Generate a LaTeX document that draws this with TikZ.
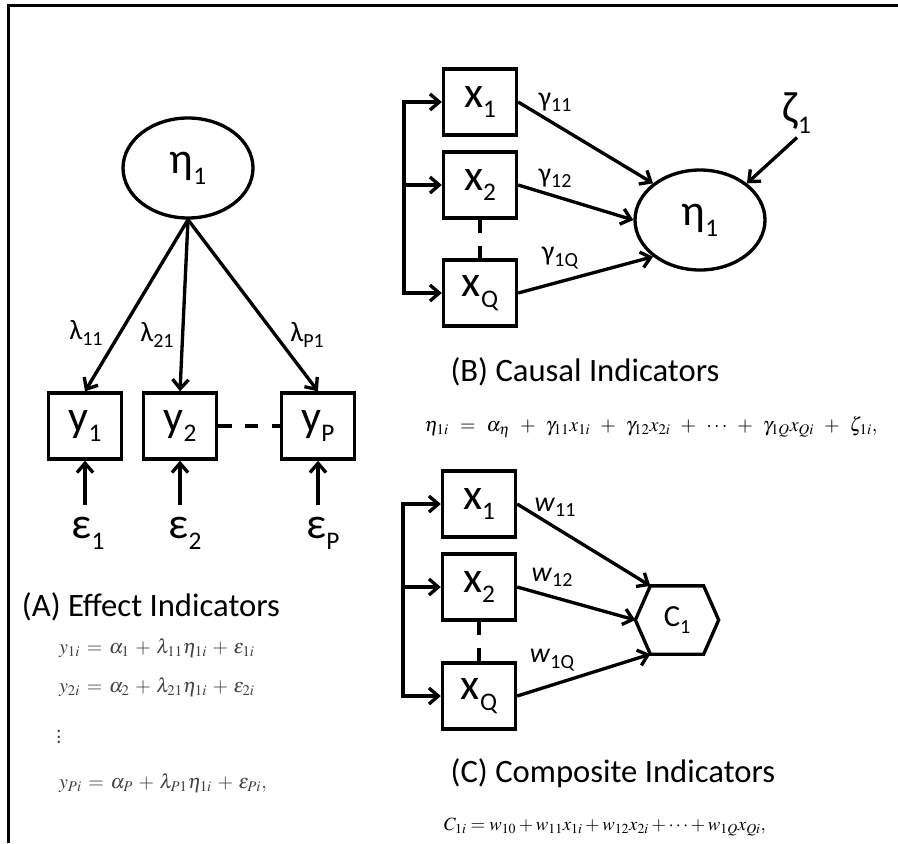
\documentclass[tikz,border=0pt]{standalone}
\usepackage{mathptmx}
\usepackage[no-math]{fontspec}
\setmainfont{Carlito}
\usetikzlibrary{shapes.geometric,arrows.meta}

\tikzset{
  px/.style={x=0.75pt,y=-0.75pt},
  arr/.style={-{Straight Barb[length=7pt,width=12pt]}},
  obs/.style={draw,minimum width=54.75pt,minimum height=49.5pt,inner sep=0pt},
  lat/.style={draw,ellipse,minimum width=97.5pt,minimum height=75pt,inner sep=0pt},
  dashline/.style={dash pattern=on 10pt off 10pt},
  caption/.style={font=\fontsize{24.5}{28}\selectfont},
  eqn/.style={font=\fontsize{15}{18}\selectfont},
}
\newcommand{\varlab}[2]{{\fontsize{33}{36}\selectfont #1}\raisebox{-8pt}{\fontsize{19}{22}\selectfont #2}}
\newcommand{\coeflab}[2]{{\fontsize{21}{24}\selectfont #1}\raisebox{-4pt}{\fontsize{15}{18}\selectfont #2}}

\begin{document}
\begin{tikzpicture}[px, line width=2.5pt]
	\useasboundingbox (0,0) rectangle (898,843);
	\draw[line width=2.25pt] (8,843) -- (8,5) -- (898,5);

	% (A) effect indicators
	\node[lat] (etaA) at (188,168) {\varlab{η}{1}};
	\node[obs] (y1) at (85,426) {\varlab{y}{1}};
	\node[obs] (y2) at (180,426) {\varlab{y}{2}};
	\node[obs] (yP) at (318,426) {\varlab{y}{P}};

	\draw[arr] (etaA.south) -- (y1.north);
	\draw[arr] (etaA.south) -- (y2.north);
	\draw[arr] (etaA.south) -- (yP.north);
	\draw[dashline] (y2) -- (yP);

	\node (l11) at (86,333) {\coeflab{λ}{11}};
	\node (l21) at (157,335) {\coeflab{λ}{21}};
	\node (lP1) at (307,335) {\coeflab{λ}{P1}};

	\node[inner sep=8pt] (e1) at (88,533) {\varlab{ε}{1}};
	\node[inner sep=8pt] (e2) at (185,533) {\varlab{ε}{2}};
	\node[inner sep=8pt] (eP) at (323,533) {\varlab{ε}{P}};
	\draw[arr] (y1.south |- e1.north) -- (y1.south);
	\draw[arr] (y2.south |- e2.north) -- (y2.south);
	\draw[arr] (yP.south |- eP.north) -- (yP.south);

	\node[caption] (capA) at (151,607) {(A) Effect Indicators};
	\node[eqn, anchor=west, text=black!75] (eqA1) at (53,648) {\medmuskip=5mu\thickmuskip=6mu$y_{1i} = \alpha_1 + \lambda_{11}\eta_{1i} + \varepsilon_{1i}$};
	\node[eqn, anchor=west, text=black!75] (eqA2) at (53,687) {\medmuskip=5mu\thickmuskip=6mu$y_{2i} = \alpha_2 + \lambda_{21}\eta_{1i} + \varepsilon_{2i}$};
	\node[eqn, text=black!75] (eqAd) at (59,733) {$\vdots$};
	\node[eqn, anchor=west, text=black!75] (eqAP) at (53,783) {\medmuskip=5mu\thickmuskip=6mu$y_{Pi} = \alpha_P + \lambda_{P1}\eta_{1i} + \varepsilon_{Pi},$};

	% (B) causal indicators
	\node[obs] (x1) at (480,102) {\varlab{x}{1}};
	\node[obs] (x2) at (480,185) {\varlab{x}{2}};
	\node[obs] (xQ) at (480,293) {\varlab{x}{Q}};
	\node[lat] (etaB) at (700,220) {\varlab{η}{1}};
	\node[inner sep=2pt] (zeta) at (797,113) {\varlab{ζ}{1}};

	\coordinate (bl) at (404,200);
	\draw[line cap=rect] (x1.west -| bl) -- (xQ.west -| bl);
	\draw[arr] (x1.west -| bl) -- (x1.west);
	\draw[arr] (x2.west -| bl) -- (x2.west);
	\draw[arr] (xQ.west -| bl) -- (xQ.west);
	\draw[dashline] (x2) -- (xQ);

	\draw[arr] (x1.east) -- (etaB.142);
	\draw[arr] (x2.east) -- (etaB.west);
	\draw[arr] (xQ.east) -- (etaB.218);
	\draw[arr] (zeta.south) -- (etaB.38);

	\node (g11) at (555,102) {\coeflab{γ}{11}};
	\node (g12) at (555,178) {\coeflab{γ}{12}};
	\node (g1Q) at (560,258) {\coeflab{γ}{1Q}};

	\node[caption] (capB) at (585,372) {(B) Causal Indicators};
	\node[eqn] (eqB) at (651,427) {\medmuskip=9mu\thickmuskip=10mu$\eta_{1i} = \alpha_\eta + \gamma_{11}x_{1i} + \gamma_{12}x_{2i} + \cdots + \gamma_{1Q}x_{Qi} + \zeta_{1i},$};

	% (C) composite indicators
	\node[obs] (x1c) at (479,504) {\varlab{x}{1}};
	\node[obs] (x2c) at (479,587) {\varlab{x}{2}};
	\node[obs] (xQc) at (479,696) {\varlab{x}{Q}};
	\node[minimum width=37.5pt, minimum height=48.75pt, inner sep=0pt] (c1) at (677,620)
		{{\fontsize{23}{26}\selectfont C}\raisebox{-5pt}{\fontsize{15}{18}\selectfont 1}};
	\draw (c1.north west) -- (c1.north east) -- ([xshift=11.25pt]c1.east) -- (c1.south east)
		-- (c1.south west) -- ([xshift=-11.25pt]c1.west) -- cycle;

	\coordinate (cl) at (403,600);
	\draw[line cap=rect] (x1c.west -| cl) -- (xQc.west -| cl);
	\draw[arr] (x1c.west -| cl) -- (x1c.west);
	\draw[arr] (x2c.west -| cl) -- (x2c.west);
	\draw[arr] (xQc.west -| cl) -- (xQc.west);
	\draw[dashline] (x2c) -- (xQc);

	\draw[arr] (x1c.east) -- (c1.north west);
	\draw[arr] (x2c.east) -- ([xshift=-11.25pt]c1.west);
	\draw[arr] (xQc.east) -- (c1.south west);

	\node (w11) at (555,507) {\coeflab{\textit{w}}{11}};
	\node (w12) at (552,577) {\coeflab{\textit{w}}{12}};
	\node (w1Q) at (552,660) {\coeflab{\textit{w}}{1Q}};

	\node[caption] (capC) at (613,773) {(C) Composite Indicators};
	\node[eqn] (eqC) at (605,827) {\fontsize{14}{16}\selectfont$C_{1i} = w_{10} + w_{11}x_{1i} + w_{12}x_{2i} + \cdots + w_{1Q}x_{Qi},$};
\end{tikzpicture}
\end{document}
